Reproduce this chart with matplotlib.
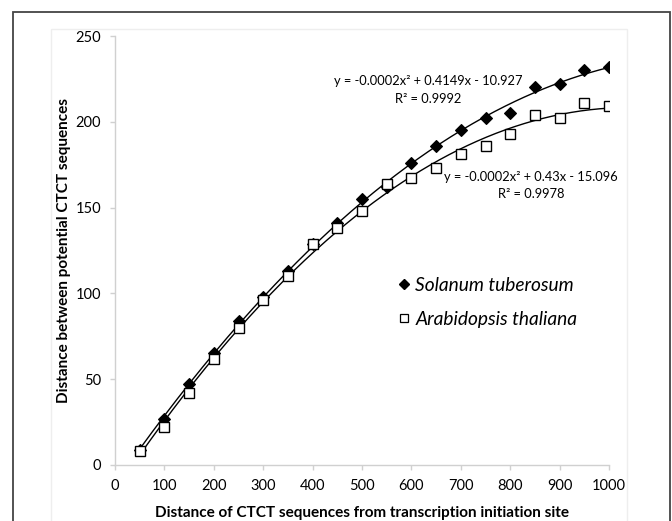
import numpy as np
import matplotlib
matplotlib.use("Agg")
import matplotlib.pyplot as plt
from matplotlib.patches import Rectangle
from matplotlib.lines import Line2D

plt.rcParams['font.family'] = ['Lato', 'DejaVu Sans']

x_vals = [50, 100, 150, 200, 250, 300, 350, 400, 450, 500,
          550, 600, 650, 700, 750, 800, 850, 900, 950, 1000]
solanum = [9, 27, 47, 65, 84, 98, 113, 129, 141, 155,
           162, 176, 186, 195, 202, 205, 220, 222, 230, 232]
arabidopsis = [8, 22, 42, 62, 80, 96, 110, 129, 138, 148,
               164, 167, 173, 181, 186, 193, 204, 202, 211, 209]
series_names = ["Solanum tuberosum", "Arabidopsis thaliana"]
eq_solanum = ["y = -0.0002x² + 0.4149x - 10.927", "R² = 0.9992"]
eq_arabidopsis = ["y = -0.0002x² + 0.43x - 15.096", "R² = 0.9978"]
x_ticks = [0, 100, 200, 300, 400, 500, 600, 700, 800, 900, 1000]
y_ticks = [0, 50, 100, 150, 200, 250]
x_label = "Distance of CTCT sequences from transcription initiation site"
y_label = "Distance between potential CTCT sequences"

W, H = 672, 521
fig = plt.figure(figsize=(W / 100, H / 100), dpi=100)
ax = fig.add_axes([115 / W, 1 - 465 / H, (609 - 115) / W, (465 - 36) / H])

x = np.array(x_vals, dtype=float)
xs = np.linspace(x.min(), x.max(), 300)
for ys in (solanum, arabidopsis):
    c = np.polyfit(x, ys, 2)
    ax.plot(xs, np.polyval(c, xs), color='black', lw=1.0, zorder=2)

ax.plot(x, solanum, linestyle='none', marker='D', ms=6.4, mfc='black',
        mec='black', mew=0.8, zorder=3)
ax.plot(x, arabidopsis, linestyle='none', marker='s', ms=7.2, mfc='white',
        mec='black', mew=1.0, zorder=4)

ax.set_xlim(0, 1000)
ax.set_ylim(0, 250)
ax.set_xticks(x_ticks)
ax.set_yticks(y_ticks)
for s in ('top', 'right'):
    ax.spines[s].set_visible(False)
for s in ('left', 'bottom'):
    ax.spines[s].set_color('#d0d0d0')
    ax.spines[s].set_linewidth(1.0)
ax.tick_params(axis='both', direction='out', length=3.6, width=1.0,
               color='#d0d0d0', labelsize=10.5, labelcolor='black', pad=6.5)
ax.set_xlabel(x_label, fontsize=11, fontweight='bold', labelpad=9)
ax.set_ylabel(y_label, fontsize=11, fontweight='bold', labelpad=3)

# trendline equations
ax.text(634, 224, eq_solanum[0], ha='center', va='center', fontsize=9.3)
ax.text(634, 213, eq_solanum[1], ha='center', va='center', fontsize=9.3)
ax.text(842, 168, eq_arabidopsis[0], ha='center', va='center', fontsize=9.3)
ax.text(842, 158, eq_arabidopsis[1], ha='center', va='center', fontsize=9.3)

# legend
handles = [Line2D([], [], linestyle='none', marker='D', ms=5.2, mfc='black', mec='black'),
           Line2D([], [], linestyle='none', marker='s', ms=5.6, mfc='white', mec='black', mew=0.9)]
leg = ax.legend(handles, series_names, loc='upper left', bbox_to_anchor=(0.573, 0.438),
                frameon=False, prop={'style': 'italic', 'size': 13.8},
                handlelength=0.6, handletextpad=0.3, labelspacing=0.86, borderaxespad=0,
                borderpad=0)

# chart area faint border and outer frame
fig.patches.append(Rectangle((51 / W, -0.05), (627 - 51) / W, (1 - 29 / H) + 0.05,
                             transform=fig.transFigure, fill=False,
                             edgecolor='#eeeeee', lw=1.0, zorder=0))
fig.patches.append(Rectangle((13 / W, -0.05), (670 - 13) / W, (1 - 12 / H) + 0.05,
                             transform=fig.transFigure, fill=False,
                             edgecolor='#444444', lw=1.3, zorder=0))

fig.savefig("out.png", dpi=100)
